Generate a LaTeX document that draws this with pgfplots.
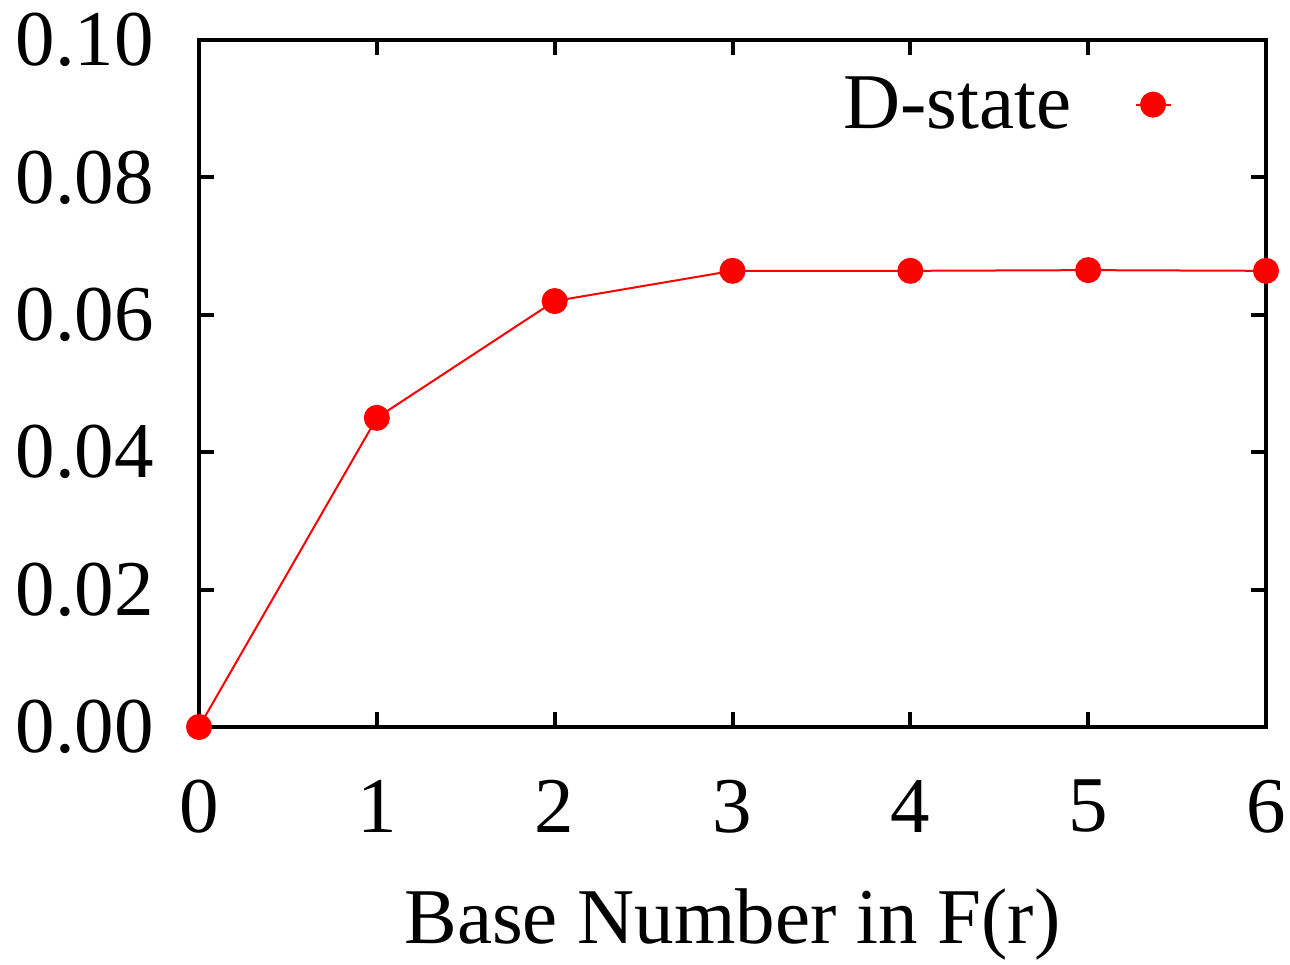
\documentclass[border=0pt]{standalone}
\usepackage{pgfplots}
\pgfplotsset{compat=1.18}
\usepackage{fontspec}
\setmainfont{Liberation Serif}
\begin{document}
\begin{tikzpicture}
\begin{axis}[
  name=ax,
  scale only axis,
  width=533.5pt, height=343.5pt,
  xmin=0, xmax=6, ymin=0, ymax=0.1,
  xtick={0,1,2,3,4,5,6},
  ytick={0,0.02,0.04,0.06,0.08,0.1},
  yticklabel style={/pgf/number format/fixed,/pgf/number format/fixed zerofill,/pgf/number format/precision=2},
  /pgf/number format/assume math mode=true,
  tick align=inside,
  major tick length=7.5pt,
  tick style={line width=2pt,black},
  axis line style={line width=2pt},
  every tick label/.append style={font=\fontsize{39.5}{42}\selectfont},
  yticklabel style={xshift=-19pt},
  xticklabel style={yshift=-23pt},
  label style={font=\fontsize{39.5}{42}\selectfont},
  xlabel={Base Number in F(r)},
  xlabel style={yshift=-21pt},
  clip=false,
  legend style={draw=none, fill=none, at={(0.9175,0.958)}, anchor=north east,
    font=\fontsize{39.5}{42}\selectfont},
  legend plot pos=right,
  legend cell align=right,
  legend image code/.code={\path[draw=none,fill=none] (0pt,-1pt) rectangle (1pt,1pt); \draw[red,line width=1pt] (30pt,0pt)--(47.5pt,0pt); \fill[red] (38.75pt,0pt) circle (6pt);},
]
\addplot[red, line width=1pt, mark=*, mark size=6pt, mark options={fill=red,draw=red}]
  coordinates {(0,0) (1,0.0450) (2,0.0620) (3,0.0664) (4,0.0664) (5,0.0665) (6,0.0664)};
\addlegendentry{D-state}
\end{axis}
\pgfresetboundingbox
\path (ax.south west) ++(-99.5pt,-118.5pt) coordinate (a);
\path (ax.north east) ++(12pt,20pt) coordinate (b);
\path[use as bounding box] (a) rectangle (b);
\end{tikzpicture}
\end{document}
